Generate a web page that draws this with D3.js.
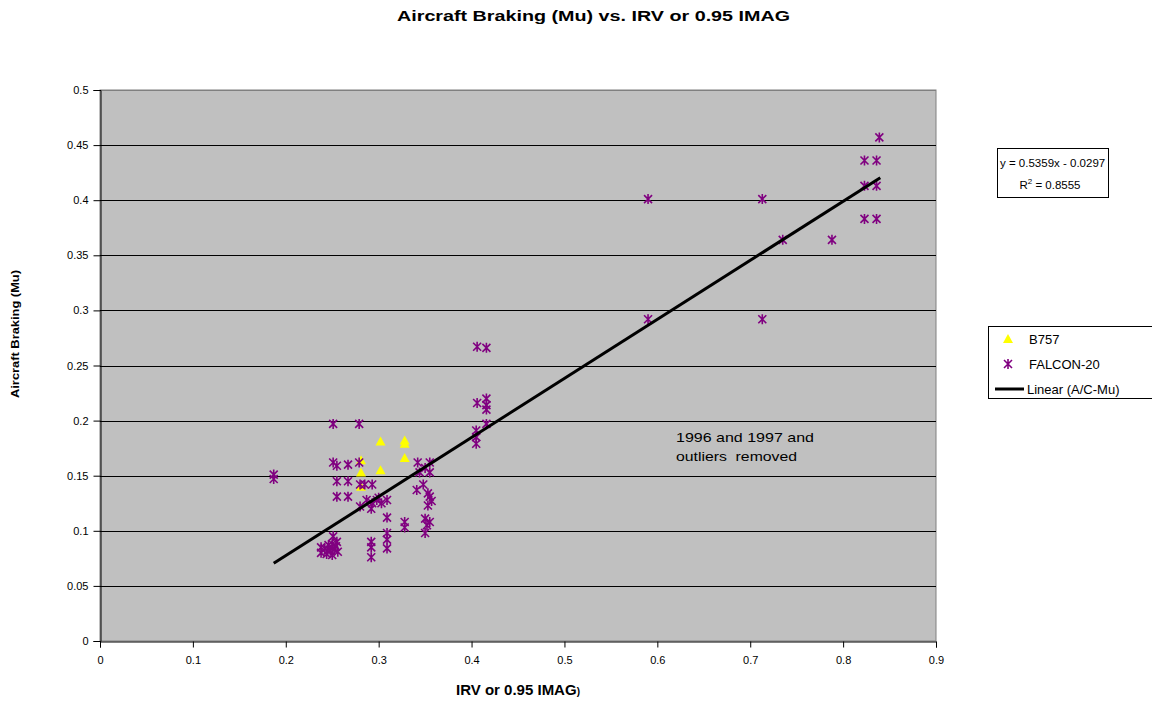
<!DOCTYPE html>
<html>
<head>
<meta charset="utf-8">
<script src="https://cdn.jsdelivr.net/npm/d3@7"></script>
<style>
  html, body { margin: 0; padding: 0; background: #fff; }
  svg { display: block; font-family: Arial, "Liberation Sans", sans-serif; }
</style>
</head>
<body>
<svg id="chart" width="1152" height="702"></svg>
<script>
// B757 observations (IRV, aircraft Mu)
const b757X = [0.302, 0.328, 0.328, 0.328, 0.302, 0.281, 0.281, 0.281];
const b757Y = [0.181, 0.182, 0.179, 0.166, 0.155, 0.153, 0.164, 0.140];

// FALCON-20 observations (IRV, aircraft Mu)
const falconX = [
  0.187, 0.187,
  0.251, 0.279,
  0.251, 0.255, 0.267, 0.279,
  0.255, 0.267, 0.280, 0.285, 0.293,
  0.255, 0.267,
  0.280, 0.287, 0.293, 0.298, 0.303, 0.292, 0.300,
  0.309, 0.309,
  0.251, 0.255,
  0.238, 0.238, 0.242, 0.244, 0.246, 0.248, 0.250, 0.250, 0.252, 0.254, 0.256, 0.245,
  0.292, 0.292, 0.292,
  0.309, 0.309, 0.309,
  0.328, 0.328,
  0.342, 0.355, 0.344, 0.355, 0.350,
  0.341, 0.348, 0.353, 0.355, 0.353, 0.357,
  0.350, 0.352, 0.350, 0.355,
  0.406, 0.416,
  0.406, 0.416, 0.416, 0.416,
  0.416, 0.405, 0.405, 0.405,
  0.590, 0.713, 0.590, 0.713, 0.735, 0.788,
  0.839, 0.823, 0.836, 0.823, 0.836, 0.823, 0.836
];
const falconY = [
  0.151, 0.147,
  0.197, 0.197,
  0.162, 0.159, 0.160, 0.162,
  0.145, 0.145, 0.142, 0.142, 0.142,
  0.131, 0.131,
  0.122, 0.128, 0.125, 0.128, 0.125, 0.120, 0.130,
  0.128, 0.112,
  0.095, 0.090,
  0.085, 0.080, 0.084, 0.079, 0.087, 0.082, 0.078, 0.088, 0.083, 0.086, 0.081, 0.082,
  0.090, 0.085, 0.076,
  0.098, 0.092, 0.084,
  0.108, 0.103,
  0.162, 0.162, 0.153, 0.153, 0.157,
  0.137, 0.142, 0.134, 0.131, 0.123, 0.127,
  0.111, 0.105, 0.098, 0.108,
  0.267, 0.266,
  0.216, 0.220, 0.214, 0.210,
  0.197, 0.191, 0.185, 0.179,
  0.401, 0.401, 0.292, 0.292, 0.364, 0.364,
  0.457, 0.436, 0.436, 0.413, 0.413, 0.383, 0.383
];

// Linear trend of A/C-Mu
const trendSlope = 0.5359;
const trendIntercept = -0.0297;
const trendR2 = 0.8555;
const trendRange = [0.187, 0.84];

// Axis ticks
const xTicks = [0, 0.1, 0.2, 0.3, 0.4, 0.5, 0.6, 0.7, 0.8, 0.9];
const yTicks = [0, 0.05, 0.1, 0.15, 0.2, 0.25, 0.3, 0.35, 0.4, 0.45, 0.5];

const svg = d3.select("#chart");
const plot = { left: 100, right: 936, top: 90, bottom: 641 };

const x = d3.scaleLinear().domain([0, 0.9]).range([plot.left, plot.right]);
const y = d3.scaleLinear().domain([0, 0.5]).range([plot.bottom, plot.top]);

// Title
svg.append("text")
  .attr("x", 397).attr("y", 21)
  .attr("font-size", 14).attr("font-weight", "bold")
  .attr("textLength", 393).attr("lengthAdjust", "spacingAndGlyphs")
  .text("Aircraft Braking (Mu) vs. IRV or 0.95 IMAG");

// Plot area background
svg.append("rect")
  .attr("x", plot.left).attr("y", plot.top)
  .attr("width", plot.right - plot.left).attr("height", plot.bottom - plot.top)
  .attr("fill", "#c0c0c0")
  .attr("stroke", "#808080").attr("stroke-width", 1);

// Horizontal gridlines
svg.append("g")
  .selectAll("line")
  .data(yTicks.filter(d => d > 0))
  .join("line")
  .attr("x1", plot.left).attr("x2", plot.right)
  .attr("y1", d => Math.round(y(d)) + 0.5).attr("y2", d => Math.round(y(d)) + 0.5)
  .attr("stroke", d => d === 0.5 ? "#808080" : "#000")
  .attr("stroke-width", 1);

// Axes
const yAxis = d3.axisLeft(y).tickValues(yTicks).tickSize(7).tickPadding(5)
  .tickFormat(d => d3.format("")(+d.toFixed(2)));
const gy = svg.append("g")
  .attr("transform", `translate(${plot.left + 0.5},0)`)
  .call(yAxis);
gy.select(".domain").attr("stroke", "#000");
gy.selectAll(".tick line").attr("stroke", "#000");
gy.selectAll(".tick text").attr("font-size", 11).attr("fill", "#000")
  .attr("font-family", "Arial, 'Liberation Sans', sans-serif");

const xAxis = d3.axisBottom(x).tickValues(xTicks).tickSize(6).tickPadding(9)
  .tickFormat(d => d3.format("")(+d.toFixed(1)));
const gx = svg.append("g")
  .attr("transform", `translate(0,${plot.bottom + 0.5})`)
  .call(xAxis);
gx.select(".domain").attr("stroke", "#000");
gx.selectAll(".tick line").attr("stroke", "#000");
gx.selectAll(".tick text").attr("font-size", 11).attr("fill", "#000")
  .attr("font-family", "Arial, 'Liberation Sans', sans-serif");

// Axis titles
svg.append("text")
  .attr("transform", "translate(19,334) rotate(-90)")
  .attr("x", -64)
  .attr("font-size", 11.5).attr("font-weight", "bold")
  .attr("textLength", 128).attr("lengthAdjust", "spacingAndGlyphs")
  .text("Aircraft Braking (Mu)");

const xTitle = svg.append("text")
  .attr("x", 518).attr("y", 695)
  .attr("text-anchor", "middle")
  .attr("font-weight", "bold");
xTitle.append("tspan").attr("font-size", 15).text("IRV or 0.95 IMAG");
xTitle.append("tspan").attr("font-size", 10).text(")");

// Marker shapes
const starPath = "M-4,-4L4,4M-4,4L4,-4M0,-5L0,5";
const triPath = "M0,-5L5,4L-5,4Z";

// B757 triangles
svg.append("g")
  .selectAll("path")
  .data(b757X.map((v, i) => [v, b757Y[i]]))
  .join("path")
  .attr("d", triPath)
  .attr("transform", d => `translate(${x(d[0])},${y(d[1])})`)
  .attr("fill", "#ffff00");

// FALCON-20 stars
svg.append("g")
  .selectAll("path")
  .data(falconX.map((v, i) => [v, falconY[i]]))
  .join("path")
  .attr("d", starPath)
  .attr("transform", d => `translate(${x(d[0])},${y(d[1])})`)
  .attr("fill", "none")
  .attr("stroke", "#800080")
  .attr("stroke-width", 1.6);

// Trend line
svg.append("path")
  .datum(trendRange.map(v => [v, trendSlope * v + trendIntercept]))
  .attr("d", d3.line().x(d => x(d[0])).y(d => y(d[1])))
  .attr("stroke", "#000").attr("stroke-width", 3).attr("fill", "none");

// Annotation
const note = svg.append("text").attr("font-size", 13.5).attr("fill", "#000");
note.append("tspan").attr("x", 676).attr("y", 442)
  .attr("textLength", 138).attr("lengthAdjust", "spacingAndGlyphs")
  .text("1996 and 1997 and");
note.append("tspan").attr("x", 676).attr("y", 461)
  .attr("textLength", 121).attr("lengthAdjust", "spacingAndGlyphs")
  .attr("xml:space", "preserve").text("outliers  removed");

// Equation box
svg.append("rect")
  .attr("x", 997.5).attr("y", 148.5).attr("width", 111).attr("height", 49)
  .attr("fill", "#fff").attr("stroke", "#000");
svg.append("text")
  .attr("x", 1000).attr("y", 167).attr("font-size", 11.5)
  .text(`y = ${trendSlope}x - ${Math.abs(trendIntercept)}`);
const r2 = svg.append("text")
  .attr("x", 1050).attr("y", 189).attr("font-size", 11.5).attr("text-anchor", "middle");
r2.append("tspan").text("R");
r2.append("tspan").attr("font-size", 8).attr("dy", -5).text("2");
r2.append("tspan").attr("dy", 5).text(` = ${trendR2}`);

// Legend
const lg = svg.append("g");
lg.append("rect")
  .attr("x", 988.5).attr("y", 326.5).attr("width", 170).attr("height", 72)
  .attr("fill", "#fff").attr("stroke", "#000");
lg.append("path").attr("d", triPath)
  .attr("transform", "translate(1008,339)").attr("fill", "#ffff00");
lg.append("text").attr("x", 1029).attr("y", 344).attr("font-size", 13).text("B757");
lg.append("path").attr("d", starPath)
  .attr("transform", "translate(1008,364)")
  .attr("fill", "none").attr("stroke", "#800080").attr("stroke-width", 1.6);
lg.append("text").attr("x", 1029).attr("y", 369).attr("font-size", 13).text("FALCON-20");
lg.append("line").attr("x1", 995).attr("x2", 1024).attr("y1", 389).attr("y2", 389)
  .attr("stroke", "#000").attr("stroke-width", 3);
lg.append("text").attr("x", 1027).attr("y", 394).attr("font-size", 13).text("Linear (A/C-Mu)");
</script>
</body>
</html>
